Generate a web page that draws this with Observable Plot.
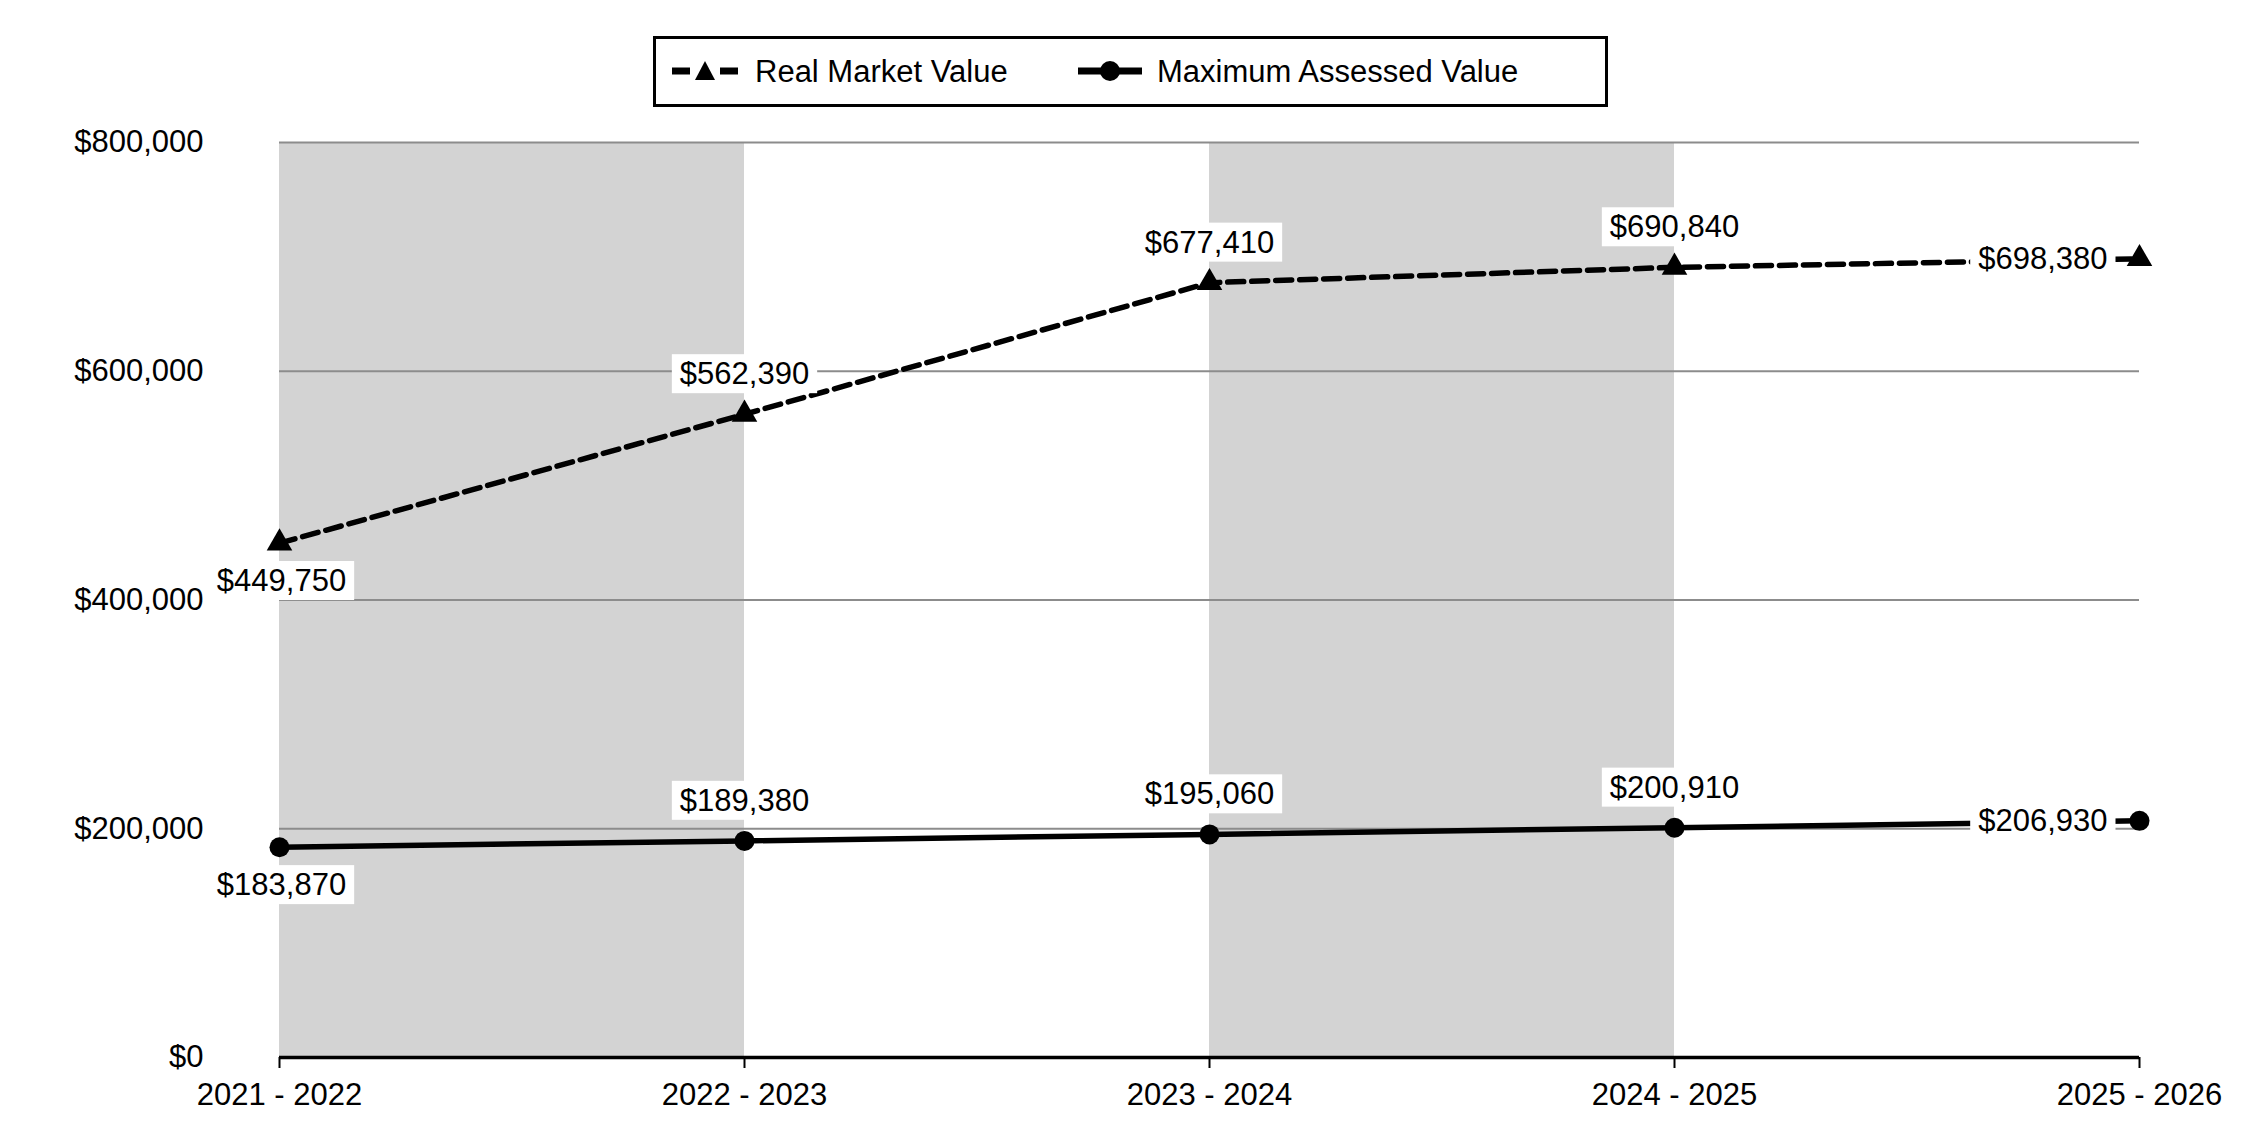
<!DOCTYPE html>
<html>
<head>
<meta charset="utf-8">
<script src="https://cdn.jsdelivr.net/npm/d3@7"></script>
<script src="https://cdn.jsdelivr.net/npm/@observablehq/plot@0.6"></script>
<style>
  body { margin: 0; background: #fff; font-family: "Liberation Sans", Arial, sans-serif; }
  #wrap { position: relative; width: 2250px; height: 1140px; overflow: hidden; }
  #legend { position: absolute; left: 653px; top: 36px; width: 949px; height: 65px; border: 3px solid #000; background: #fff; }
  #legend .sym { position: absolute; top: 12px; }
  #legend .lab { position: absolute; top: 0; line-height: 65px; font-size: 31px; color: #000; white-space: nowrap; }
  #chart { position: absolute; left: 0; top: 120px; }
</style>
</head>
<body>
<div id="wrap">
  <div id="legend">
    <svg class="sym" style="left:14px" width="70" height="40" viewBox="0 0 70 40">
      <line x1="2" y1="20" x2="20" y2="20" stroke="#000" stroke-width="7"/>
      <path d="M35,10 L45,29 L25,29 Z" fill="#000"/>
      <line x1="50" y1="20" x2="68" y2="20" stroke="#000" stroke-width="7"/>
    </svg>
    <span class="lab" style="left:99px">Real Market Value</span>
    <svg class="sym" style="left:420px" width="70" height="40" viewBox="0 0 70 40">
      <line x1="2" y1="20" x2="66" y2="20" stroke="#000" stroke-width="7"/>
      <circle cx="34" cy="20" r="10" fill="#000"/>
    </svg>
    <span class="lab" style="left:501px">Maximum Assessed Value</span>
  </div>
  <div id="chart"></div>
</div>
<script>
// ---- data ----
const years = ["2021 - 2022", "2022 - 2023", "2023 - 2024", "2024 - 2025", "2025 - 2026"];
const realMarketValue = [449750, 562390, 677410, 690840, 698380];
const maxAssessedValue = [183870, 189380, 195060, 200910, 206930];
const yTicks = [0, 200000, 400000, 600000, 800000];
const shadedBands = [[0, 1], [2, 3]]; // pairs of year indices

// ---- build rows ----
const last = years.length - 1;
const rmv = realMarketValue.map((v, i) => ({i, v}));
const mav = maxAssessedValue.map((v, i) => ({i, v}));
const placement = i => i === 0 ? "below" : (i === last ? "left" : "above");
const labels = [...rmv, ...mav].map(d => ({...d, place: placement(d.i)}));
const money = v => "$" + d3.format(",")(v);
const yMax = yTicks[yTicks.length - 1];

const fs = 31;
const textCommon = {x: "i", y: "v", text: d => money(d.v), fontSize: fs, fill: "#000"};

const plot = Plot.plot({
  width: 2250,
  height: 1020,
  marginTop: 22,
  marginBottom: 83,
  marginLeft: 279,
  marginRight: 111,
  style: {fontFamily: '"Liberation Sans", Arial, sans-serif', background: "#fff", overflow: "visible"},
  x: {type: "linear", domain: [0, last], label: null},
  y: {domain: [0, yMax], label: null},
  marks: [
    Plot.rect(shadedBands, {x1: d => d[0], x2: d => d[1], y1: () => 0, y2: () => yMax, fill: "#d3d3d3"}),
    Plot.ruleY(yTicks.filter(d => d > 0), {stroke: "#8c8c8c", strokeWidth: 2}),
    Plot.axisY({ticks: yTicks, tickFormat: money, tickSize: 0, tickPadding: 76, fontSize: fs, color: "#000", label: null}),
    Plot.axisX({ticks: d3.range(years.length), tickFormat: i => years[i], tickSize: 11, tickPadding: 14, fontSize: fs, color: "#000", strokeWidth: 2, label: null}),
    Plot.ruleY([0], {stroke: "#000", strokeWidth: 3.5}),
    Plot.line(rmv, {x: "i", y: "v", stroke: "#000", strokeWidth: 5.5, strokeDasharray: "16,8"}),
    Plot.dot(rmv, {x: "i", y: "v", symbol: "triangle", r: 9.5, fill: "#000"}),
    Plot.line(mav, {x: "i", y: "v", stroke: "#000", strokeWidth: 5.5}),
    Plot.dot(mav, {x: "i", y: "v", r: 10, fill: "#000"}),
    Plot.text(labels.filter(d => d.place === "below"), {...textCommon, dx: 2, dy: 38}),
    Plot.text(labels.filter(d => d.place === "above"), {...textCommon, dy: -40}),
    Plot.text(labels.filter(d => d.place === "left"), {...textCommon, textAnchor: "end", dx: -32})
  ]
});

document.getElementById("chart").appendChild(plot);

// white boxes behind the value labels
const labelStrings = new Set(labels.map(d => money(d.v)));
const svgNS = "http://www.w3.org/2000/svg";
Array.from(plot.querySelectorAll("text"))
  .filter(t => labelStrings.has(t.textContent.trim()))
  .forEach(t => {
    try {
      const b = t.getBBox();
      const r = document.createElementNS(svgNS, "rect");
      r.setAttribute("x", b.x - 8);
      r.setAttribute("y", b.y - 2);
      r.setAttribute("width", b.width + 16);
      r.setAttribute("height", b.height + 4);
      r.setAttribute("fill", "#fff");
      r.setAttribute("stroke", "none");
      const tr = t.getAttribute("transform");
      if (tr) r.setAttribute("transform", tr);
      t.parentNode.insertBefore(r, t);
    } catch (e) { console.error(e); }
  });
</script>
</body>
</html>
